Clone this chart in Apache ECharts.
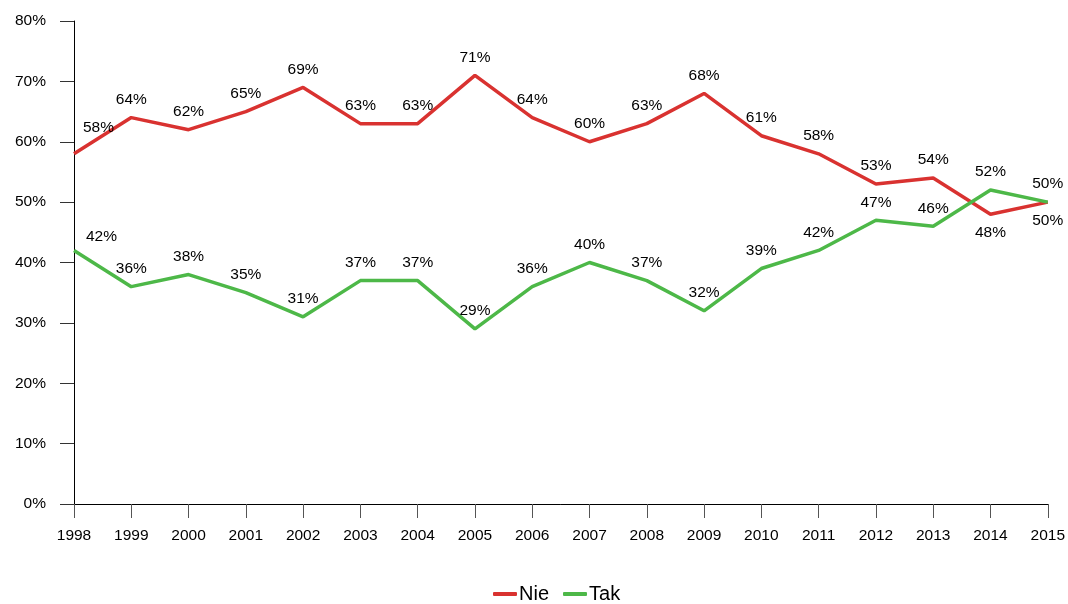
<!DOCTYPE html>
<html><head><meta charset="utf-8">
<script src="https://cdn.jsdelivr.net/npm/echarts@6/dist/echarts.min.js"></script>
<style>html,body{margin:0;padding:0;background:#fff}#c{width:1068px;height:604px}</style>
</head><body><div id="c"></div>
<script>
const years = ['1998','1999','2000','2001','2002','2003','2004','2005','2006','2007','2008','2009','2010','2011','2012','2013','2014','2015'];
const nie = [58,64,62,65,69,63,63,71,64,60,63,68,61,58,53,54,48,50];
const tak = [42,36,38,35,31,37,37,29,36,40,37,32,39,42,47,46,52,50];
const yTicks = [0,10,20,30,40,50,60,70,80];

function labelled(values, below, firstPos) {
  return values.map((v, i) => {
    const o = { value: v };
    if (i === 0) o.label = { position: firstPos };
    else if (below.includes(i)) o.label = { position: 'bottom', distance: 11 };
    return o;
  });
}

const chart = echarts.init(document.getElementById('c'));
const font = 'Liberation Sans, Arial, sans-serif';
const lbl = { show: true, position: 'top', distance: 10, color: '#000', fontSize: 15.5, fontFamily: font, formatter: p => p.value + '%' };
chart.setOption({
  animation: false,
  textStyle: { fontFamily: font },
  grid: { left: 74, right: 16, top: 21, bottom: 100 },
  legend: {
    bottom: 0, left: 493, padding: 0, itemWidth: 24, itemHeight: 4, itemGap: 14,
    icon: 'roundRect',
    textStyle: { fontSize: 20, color: '#000', fontFamily: font, padding: [0, 0, 0, -3] },
    data: ['Nie', 'Tak']
  },
  xAxis: {
    type: 'category', data: years, boundaryGap: false,
    axisLine: { lineStyle: { color: '#000', width: 1 } },
    axisTick: { show: true, length: 14, lineStyle: { color: '#555' }, alignWithLabel: true },
    axisLabel: { color: '#000', fontSize: 15.5, margin: 24 }
  },
  yAxis: {
    type: 'value', min: 0, max: 80, interval: 10,
    axisLine: { show: true, lineStyle: { color: '#000', width: 1 } },
    axisTick: { show: true, length: 14, lineStyle: { color: '#333' } },
    splitLine: { show: false },
    axisLabel: { color: '#000', fontSize: 15.5, margin: 28, formatter: v => yTicks.includes(v) ? v + '%' : '' }
  },
  series: [
    {
      name: 'Nie', type: 'line', data: labelled(nie, [16, 17], [9, -34]),
      color: '#d93230', symbol: 'circle', symbolSize: 0.01, showSymbol: true, lineStyle: { width: 3.5 },
      label: lbl, labelLayout: { hideOverlap: false }
    },
    {
      name: 'Tak', type: 'line', data: labelled(tak, [], [12, -22]),
      color: '#4db848', symbol: 'circle', symbolSize: 0.01, showSymbol: true, lineStyle: { width: 3.5 },
      label: lbl, labelLayout: { hideOverlap: false }
    }
  ]
});
</script>
</body></html>
